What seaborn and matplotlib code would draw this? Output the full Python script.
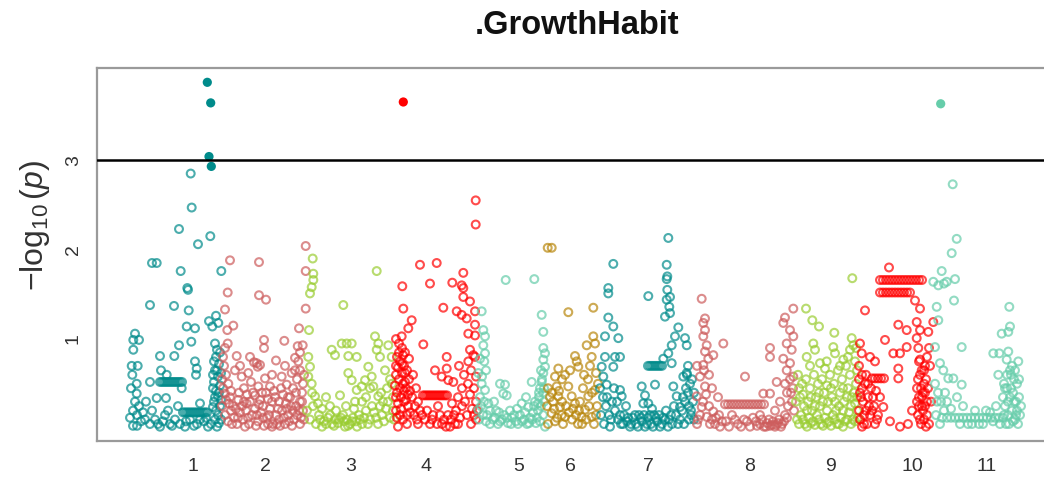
import numpy as np
import pandas as pd
import matplotlib
matplotlib.use("Agg")
import matplotlib.pyplot as plt
import seaborn as sns

sns.set_style("white")
plt.rcParams["font.family"] = ["Liberation Sans", "DejaVu Sans"]
plt.rcParams["mathtext.fontset"] = "custom"
plt.rcParams["mathtext.rm"] = "Liberation Sans"
plt.rcParams["mathtext.it"] = "Liberation Sans:italic"

# ---------------- data (position on the concatenated genome axis, -log10 p) -------------
chrom_labels = ["1", "2", "3", "4", "5", "6", "7", "8", "9", "10", "11"]
chrom_colors = ["#008B8B", "#CD5C5C", "#9ACD32", "#FF0000", "#66CDAA", "#B8860B",
                "#008B8B", "#CD5C5C", "#9ACD32", "#FF0000", "#66CDAA"]
tick_positions = [193, 265, 351, 426, 519, 570, 648, 750, 831, 912, 987]
threshold = 3.0

chr1 = [(190.7, 2.85), (191.7, 2.47), (179, 2.23), (210.3, 2.15), (198, 2.06), (152, 1.85), (156.7, 1.85),
        (180.7, 1.76), (221.3, 1.76), (187.3, 1.57), (188, 1.55), (150, 1.38), (174, 1.37), (188.7, 1.32),
        (209, 1.20), (216, 1.26), (218.3, 1.18), (212.3, 1.14), (186.7, 1.14), (195, 1.12), (191.3, 0.97),
        (179, 0.93), (174.3, 0.81), (160, 0.81), (135, 1.06), (133.3, 0.99), (139, 0.99), (133.3, 0.88),
        (131.7, 0.70), (137.7, 0.70), (132.3, 0.60), (136.7, 0.50), (136.7, 0.39), (150, 0.52),
        (160, 0.52), (162, 0.52), (164, 0.52), (166, 0.52), (168, 0.52), (170, 0.52), (172, 0.52),
        (174, 0.52), (176, 0.52), (178, 0.52), (180, 0.52), (182, 0.52),
        (161, 0.65), (166.7, 0.60), (195, 0.75), (196.7, 0.67), (196, 0.60), (181.7, 0.45), (156.7, 0.34),
        (166, 0.34),
        (183, 0.18), (185, 0.18), (187, 0.18), (189, 0.18), (191, 0.18), (193, 0.18), (195, 0.18),
        (197, 0.18), (199, 0.18), (201, 0.18), (203, 0.18), (205, 0.18), (207, 0.18),
        (200, 0.28), (137, 0.15), (133, 0.20), (141, 0.08), (137, 0.03), (133, 0.03), (145, 0.10),
        (155, 0.10), (165, 0.15), (170, 0.05), (180, 0.05), (197, 0.05), (160, 0.02), (172, 0.03),
        (185, 0.02), (150, 0.05), (130, 0.12), (143, 0.18), (190, 0.10), (204, 0.08), (208, 0.02),
        (215, 0.95), (217, 0.88), (216, 0.80), (219, 0.72), (215, 0.65), (218, 0.58), (214, 0.52),
        (220, 0.48), (216, 0.42), (218, 0.36), (214, 0.30), (220, 0.25), (216, 0.20), (218, 0.15),
        (215, 0.10), (219, 0.06), (217, 0.02), (221, 0.32), (213, 0.45), (221, 0.62), (213, 0.24),
        (135, 0.30), (139, 0.25), (131, 0.45), (146, 0.30), (152, 0.20), (158, 0.05), (163, 0.08),
        (168, 0.20), (175, 0.10), (178, 0.25), (186, 0.08), (194, 0.03), (200, 0.10), (206, 0.12),
        (211, 0.05), (213, 0.60), (214, 0.75), (220, 0.85), (221, 0.10), (219, 0.40), (217, 0.65),
        (215, 0.35)]
chr1_sig = [(207.3, 3.87), (210.7, 3.64), (209, 3.04), (211.3, 2.93)]

chr2 = [(230, 1.88), (259, 1.86), (305.7, 2.04), (305.7, 1.76), (227.7, 1.52), (259, 1.49), (266, 1.44),
        (225, 1.33), (305.7, 1.34), (233.3, 1.15), (227.3, 1.10), (299, 1.12), (264, 0.99), (264, 0.90),
        (284.3, 0.98), (302.7, 0.93), (297.7, 0.92), (225, 0.90), (227.7, 0.95), (236.7, 0.81), (254, 0.74),
        (256.7, 0.73), (260, 0.71), (257.7, 0.69), (276, 0.76), (295, 0.79), (298.3, 0.75), (235, 0.65),
        (241.7, 0.58), (248.3, 0.62), (265, 0.56), (270, 0.47), (281.7, 0.58), (286.7, 0.49), (291.7, 0.62),
        (255, 0.37), (258.3, 0.47), (228.3, 0.50), (225, 0.39), (238.3, 0.32), (246.7, 0.28),
        (223, 0.80), (224, 0.70), (226, 0.60), (222, 0.55), (231, 0.42), (244, 0.45), (251, 0.52),
        (262, 0.40), (268, 0.33), (274, 0.42), (279, 0.30), (283, 0.38), (288, 0.35), (293, 0.45),
        (297, 0.55), (300, 0.65), (303, 0.50), (302, 0.40), (300, 0.30), (296, 0.25),
        (222, 0.25), (225, 0.15), (228, 0.08), (231, 0.20), (234, 0.12), (237, 0.05), (240, 0.18),
        (243, 0.10), (246, 0.20), (249, 0.05), (252, 0.15), (255, 0.22), (258, 0.08), (261, 0.18),
        (264, 0.03), (267, 0.12), (270, 0.22), (273, 0.05), (276, 0.15), (279, 0.10), (282, 0.20),
        (285, 0.05), (288, 0.15), (291, 0.25), (294, 0.10), (297, 0.15), (300, 0.05), (303, 0.20),
        (229, 0.28), (244, 0.30), (259, 0.27), (286, 0.28), (272, 0.02), (248, 0.12), (236, 0.22),
        (223, 0.45), (226, 0.32), (230, 0.35), (233, 0.25), (239, 0.40), (242, 0.25), (247, 0.38),
        (250, 0.30), (253, 0.40), (257, 0.15), (260, 0.32), (263, 0.25), (266, 0.40), (269, 0.15),
        (272, 0.30), (275, 0.35), (278, 0.22), (281, 0.45), (284, 0.12), (287, 0.22), (290, 0.35),
        (293, 0.20), (296, 0.40), (299, 0.20), (302, 0.30), (304, 0.10), (301, 0.12), (232, 0.05),
        (245, 0.02), (256, 0.03), (268, 0.05), (280, 0.03), (292, 0.03), (238, 0.12), (263, 0.12),
        (277, 0.05), (289, 0.08), (304, 0.60), (300, 0.85), (295, 0.65), (272, 0.60), (285, 0.70),
        (240, 0.70), (250, 0.80)]

chr3 = [(312.7, 1.90), (313.3, 1.73), (313.3, 1.66), (311.7, 1.58), (310, 1.51), (309, 1.10), (376.7, 1.76),
        (343.3, 1.38), (341.7, 0.95), (346.7, 0.95), (351.7, 0.95), (331.7, 0.88), (335, 0.82), (348.3, 0.81),
        (356.7, 0.80), (375, 1.03), (378.3, 0.95), (376.7, 0.88), (380, 0.80), (388.3, 0.93), (391.7, 0.80),
        (368.3, 0.69), (365, 0.54), (371.7, 0.58), (373.3, 0.47), (378.3, 0.36), (348.3, 0.62), (351.7, 0.54),
        (356.7, 0.43), (361.7, 0.47), (340, 0.37), (308.3, 0.80), (310, 0.69), (308.3, 0.58), (311.7, 0.50),
        (315, 0.36), (385, 0.65), (390, 0.55), (387, 0.45), (393, 0.35), (383, 0.30), (362, 0.30),
        (318, 0.28), (322, 0.22), (326, 0.35), (330, 0.15),
        (307, 0.20), (310, 0.10), (313, 0.25), (316, 0.05), (319, 0.15), (324, 0.08), (328, 0.12),
        (332, 0.05), (335, 0.10), (338, 0.06), (341, 0.12), (344, 0.08), (347, 0.10), (350, 0.05),
        (353, 0.12), (356, 0.08), (359, 0.15), (362, 0.05), (366, 0.20), (370, 0.10), (374, 0.18),
        (378, 0.05), (382, 0.15), (386, 0.22), (390, 0.12), (393, 0.20), (336, 0.20), (354, 0.22),
        (345, 0.02), (322, 0.02),
        (312, 0.40), (320, 0.10), (326, 0.05), (330, 0.25), (334, 0.03), (339, 0.10), (343, 0.15),
        (348, 0.03), (352, 0.08), (357, 0.02), (360, 0.10), (364, 0.12), (368, 0.05), (372, 0.25),
        (376, 0.12), (380, 0.25), (384, 0.08), (388, 0.30), (392, 0.50), (394, 0.10), (366, 0.35),
        (355, 0.30), (346, 0.25), (370, 0.45), (381, 0.40)]

chr4 = [(475.7, 2.55), (475.7, 2.28), (420, 1.83), (436.7, 1.85), (402.3, 1.59), (430, 1.62), (452.3, 1.63),
        (463.3, 1.74), (461.7, 1.60), (463.3, 1.57), (463.3, 1.47), (403.3, 1.34), (443.3, 1.35),
        (456.7, 1.31), (461.7, 1.27), (466.7, 1.23), (470, 1.42), (475, 1.31), (475, 1.16), (468.3, 1.06),
        (475, 1.04), (411.7, 1.21), (408.3, 1.12), (401.7, 1.03), (423.3, 0.94), (446.7, 0.80), (470, 0.88),
        (475, 0.80),
        (423, 0.37), (425, 0.37), (427, 0.37), (429, 0.37), (431, 0.37), (433, 0.37), (435, 0.37),
        (437, 0.37), (439, 0.37), (441, 0.37), (443, 0.37), (445, 0.37), (447, 0.37),
        (435, 0.65), (446.7, 0.67), (441.7, 0.58), (448.3, 0.54), (453.3, 0.52), (468.3, 0.75),
        (473.3, 0.82), (471, 0.65), (476, 0.58), (474, 0.45), (470, 0.38), (476, 0.30), (472, 0.22),
        (467, 0.15), (476, 0.10),
        (396, 1.00), (399, 0.95), (402, 0.90), (405, 0.85), (397, 0.80), (400, 0.75), (404, 0.70),
        (407, 0.65), (396, 0.60), (399, 0.55), (403, 0.50), (406, 0.45), (397, 0.40), (401, 0.35),
        (404, 0.30), (408, 0.25), (396, 0.20), (400, 0.15), (403, 0.10), (407, 0.05), (398, 0.02),
        (405, 0.62), (409, 0.78), (410, 0.42), (398, 0.28), (402, 0.72), (410, 0.18), (395, 0.48),
        (413, 0.60), (416, 0.45), (418, 0.30), (414, 0.15), (420, 0.20), (425, 0.10), (430, 0.05),
        (433, 0.15), (438, 0.25), (452, 0.28), (456, 0.20), (460, 0.12), (458, 0.35), (462, 0.45),
        (455, 0.05), (450, 0.02), (446, 0.02), (442, 0.05), (418, 0.05),
        (396, 0.70), (399, 0.85), (402, 0.62), (405, 0.52), (408, 0.38), (397, 0.12), (401, 0.22),
        (404, 0.42), (407, 0.15), (409, 0.55), (400, 0.45), (398, 0.68), (403, 0.82), (406, 0.32),
        (396, 0.35), (412, 0.35), (415, 0.25), (417, 0.10), (422, 0.15), (427, 0.20), (432, 0.10),
        (437, 0.05), (440, 0.15), (444, 0.10), (448, 0.15), (451, 0.10), (454, 0.15), (458, 0.05),
        (462, 0.25), (465, 0.30), (468, 0.50), (471, 0.05), (474, 0.15), (477, 0.20), (464, 0.60),
        (459, 0.70)]
chr4_sig = [(403.3, 3.65)]

chr5 = [(505.7, 1.66), (534.3, 1.67), (481.7, 1.31), (541.7, 1.27), (543.3, 1.08), (483.3, 1.10),
        (485, 1.03), (483.3, 0.93), (485, 0.84), (484.3, 0.75), (543.3, 0.90), (545, 0.84), (543.3, 0.77),
        (545, 0.69), (543.3, 0.62), (541.7, 0.52), (500, 0.50), (505, 0.49), (503.3, 0.39), (506.7, 0.37),
        (531.7, 0.52), (478.3, 0.62), (481.7, 0.50), (485, 0.43), (488.3, 0.28), (478.3, 0.21),
        (521.7, 0.28), (528.3, 0.24),
        (540, 0.45), (543, 0.40), (539, 0.35), (544, 0.30), (541, 0.25), (538, 0.20), (543, 0.15),
        (540, 0.08), (480, 0.35), (483, 0.15), (486, 0.08), (490, 0.20), (495, 0.12), (498, 0.05),
        (502, 0.10), (508, 0.06), (512, 0.12), (516, 0.08), (520, 0.15), (524, 0.10), (527, 0.05),
        (530, 0.12), (533, 0.18), (536, 0.06), (494, 0.30), (510, 0.20), (517, 0.22), (526, 0.35),
        (535, 0.30), (499, 0.18),
        (479, 0.10), (481, 0.25), (484, 0.30), (487, 0.15), (490, 0.05), (493, 0.10), (496, 0.20),
        (500, 0.08), (504, 0.15), (507, 0.12), (511, 0.05), (514, 0.15), (518, 0.05), (522, 0.08),
        (525, 0.18), (529, 0.06), (532, 0.10), (534, 0.25), (537, 0.12), (539, 0.40), (542, 0.55),
        (544, 0.45), (541, 0.65), (538, 0.28), (482, 0.58), (486, 0.65), (480, 0.78), (545, 0.02)]

chr6 = [(547.7, 2.02), (551.7, 2.02), (568.3, 1.30), (593.3, 1.35), (593.3, 1.03), (595, 0.95),
        (586.7, 0.93), (591.7, 0.80), (575, 0.81), (576.7, 0.75), (558.3, 0.67), (555, 0.58), (565, 0.60),
        (570, 0.65), (578.3, 0.69), (556.7, 0.47), (558.3, 0.36), (560, 0.24), (561.7, 0.15), (568.3, 0.47),
        (571.7, 0.36), (575, 0.28), (551.7, 0.17), (555, 0.08), (565, 0.13), (581.7, 0.13), (585, 0.21),
        (588.3, 0.36), (595, 0.43), (591.7, 0.13),
        (548, 0.45), (550, 0.35), (547, 0.25), (553, 0.30), (563, 0.05), (572, 0.10), (578, 0.05),
        (583, 0.45), (588, 0.55), (596, 0.62), (590, 0.70), (597, 0.25), (594, 0.05), (580, 0.30),
        (548, 0.05),
        (552, 0.40), (554, 0.22), (557, 0.12), (559, 0.42), (562, 0.30), (566, 0.25), (569, 0.18),
        (573, 0.22), (576, 0.15), (579, 0.20), (582, 0.05), (586, 0.10), (589, 0.25), (592, 0.40),
        (596, 0.15), (598, 0.50), (584, 0.60), (562, 0.55)]

chr7 = [(668.3, 2.13), (613.3, 1.84), (666.7, 1.83), (667.3, 1.70), (666.7, 1.67), (648.3, 1.48),
        (608.3, 1.57), (608.3, 1.51), (667.3, 1.55), (670, 1.47), (666.7, 1.44), (669.3, 1.36), (670, 1.29),
        (665, 1.25), (678.3, 1.13), (675, 1.03), (671.7, 0.93), (668.3, 0.84), (608.3, 1.24), (613.3, 1.14),
        (605, 1.03), (618.3, 1.01), (685, 1.01), (686.7, 0.93),
        (648, 0.70), (650, 0.70), (652, 0.70), (654, 0.70), (656, 0.70), (658, 0.70), (660, 0.70),
        (662, 0.70),
        (615, 0.80), (620, 0.80), (613.3, 0.69), (663.3, 0.78), (671.7, 0.73), (601.7, 0.69), (603.3, 0.58),
        (606.7, 0.49), (620, 0.43), (621.7, 0.36), (641.7, 0.47), (655, 0.49), (645, 0.37), (648.3, 0.28),
        (643.3, 0.28), (673.3, 0.47), (676.7, 0.36), (680, 0.24), (683.3, 0.58), (686.7, 0.62),
        (600, 0.45), (603, 0.35), (606, 0.25), (609, 0.15), (612, 0.30), (615, 0.20), (618, 0.10),
        (621, 0.05), (624, 0.15), (627, 0.08), (630, 0.02), (633, 0.12), (636, 0.05), (639, 0.15),
        (642, 0.08), (645, 0.02), (648, 0.12), (651, 0.05), (654, 0.15), (657, 0.08), (660, 0.02),
        (663, 0.12), (666, 0.20), (669, 0.10), (672, 0.05), (676, 0.15), (680, 0.10), (683, 0.35),
        (686, 0.45), (689, 0.25), (692, 0.55), (694, 0.40), (691, 0.15), (688, 0.70), (684, 0.05),
        (610, 0.02), (626, 0.25), (652, 0.22),
        (601, 0.15), (604, 0.05), (607, 0.35), (611, 0.10), (614, 0.45), (617, 0.30), (620, 0.15),
        (623, 0.05), (628, 0.12), (631, 0.05), (635, 0.15), (638, 0.02), (641, 0.12), (644, 0.15),
        (647, 0.05), (650, 0.15), (653, 0.02), (656, 0.12), (659, 0.15), (662, 0.05), (665, 0.10),
        (668, 0.02), (671, 0.15), (674, 0.25), (678, 0.05), (682, 0.20), (685, 0.30), (688, 0.40),
        (690, 0.50), (693, 0.30), (687, 0.60), (691, 0.20), (694, 0.10), (689, 0.10), (605, 0.80)]

chr8 = [(701.7, 1.45), (705, 1.23), (703.3, 1.18), (705, 1.10), (703.3, 1.03), (706.7, 0.93), (705, 0.86),
        (708.3, 0.78), (703.3, 0.71), (723.3, 0.95), (713.3, 0.82), (745, 0.58), (770, 0.90), (770, 0.80),
        (793.3, 1.34), (785, 1.24), (783.3, 1.18), (790, 1.10), (793.3, 1.03), (786.7, 0.95), (791.7, 0.88),
        (783.3, 0.78), (790, 0.73), (786.7, 0.65), (793.3, 0.58), (776.7, 0.52),
        (725, 0.27), (728, 0.27), (731, 0.27), (734, 0.27), (737, 0.27), (740, 0.27), (743, 0.27),
        (746, 0.27), (749, 0.27), (752, 0.27), (755, 0.27), (758, 0.27), (761, 0.27), (764, 0.27),
        (763.3, 0.39), (770, 0.39), (700, 0.58), (705, 0.47), (696.7, 0.36), (701.7, 0.24), (706.7, 0.13),
        (713.3, 0.19),
        (698, 0.10), (710, 0.05), (716, 0.12), (720, 0.02), (726, 0.08), (732, 0.15), (738, 0.05),
        (744, 0.10), (750, 0.02), (756, 0.08), (760, 0.05), (764, 0.02), (767, 0.06), (770, 0.03),
        (773, 0.08), (776, 0.04), (779, 0.10), (782, 0.05), (785, 0.15), (788, 0.25), (791, 0.40),
        (794, 0.20), (780, 0.30), (775, 0.20), (718, 0.35), (712, 0.45), (697, 0.70), (760, 0.15),
        (697, 0.05), (700, 0.15), (703, 0.30), (706, 0.38), (709, 0.25), (712, 0.10), (715, 0.05),
        (719, 0.15), (722, 0.08), (729, 0.02), (735, 0.10), (741, 0.02), (747, 0.08), (753, 0.12),
        (757, 0.03), (762, 0.10), (766, 0.02), (769, 0.10), (772, 0.04), (775, 0.02), (778, 0.06),
        (781, 0.02), (784, 0.08), (787, 0.40), (790, 0.55), (793, 0.45), (785, 0.50), (792, 0.30),
        (787, 0.12), (709, 0.60), (704, 0.65)]

chr9 = [(852.3, 1.68), (806, 1.34), (812.3, 1.21), (819, 1.14), (834.3, 1.07), (813.3, 0.95), (815, 0.88),
        (806.7, 0.80), (833.3, 0.91), (835, 0.84), (843.3, 0.77), (851.7, 1.01), (853.3, 0.93), (850, 0.88),
        (820, 0.73), (826.7, 0.75), (825, 0.67),
        (798, 0.60), (802, 0.50), (806, 0.55), (810, 0.45), (814, 0.60), (818, 0.50), (822, 0.55),
        (830, 0.60), (834, 0.50), (838, 0.65), (842, 0.55), (846, 0.70), (850, 0.60), (855, 0.75),
        (857, 0.65), (800, 0.35), (804, 0.25), (808, 0.30), (812, 0.20), (816, 0.35), (820, 0.25),
        (824, 0.40), (828, 0.30), (832, 0.35), (836, 0.20), (840, 0.40), (844, 0.30), (848, 0.45),
        (852, 0.35), (856, 0.50), (797, 0.10), (801, 0.15), (805, 0.05), (809, 0.12), (813, 0.08),
        (817, 0.15), (821, 0.05), (825, 0.12), (829, 0.08), (833, 0.15), (837, 0.05), (841, 0.12),
        (845, 0.08), (849, 0.18), (853, 0.10), (857, 0.20), (827, 0.48), (843, 0.45), (855, 0.28),
        (796, 0.30), (799, 0.45), (803, 0.38), (807, 0.20), (811, 0.35), (815, 0.25), (819, 0.40),
        (823, 0.30), (827, 0.20), (831, 0.45), (835, 0.30), (839, 0.25), (843, 0.20), (847, 0.35),
        (851, 0.25), (854, 0.40), (857, 0.35), (799, 0.05), (803, 0.10), (807, 0.02), (811, 0.06),
        (815, 0.04), (819, 0.10), (823, 0.03), (827, 0.06), (831, 0.03), (835, 0.10), (839, 0.05),
        (843, 0.02), (847, 0.10), (851, 0.05), (855, 0.08), (858, 0.12), (810, 0.70), (840, 0.70),
        (848, 0.80), (856, 0.90)]

chr10 = [(889, 1.80),
         (880, 1.66), (883, 1.66), (886, 1.66), (889, 1.66), (892, 1.66), (895, 1.66), (898, 1.66),
         (901, 1.66), (904, 1.66), (907, 1.66), (910, 1.66), (913, 1.66), (916, 1.66), (919, 1.66),
         (922, 1.66),
         (880, 1.52), (883, 1.52), (886, 1.52), (889, 1.52), (892, 1.52), (895, 1.52), (898, 1.52),
         (901, 1.52), (904, 1.52), (907, 1.52), (910, 1.52),
         (915, 1.43), (920, 1.34), (865, 1.32), (898.3, 1.16), (906.7, 1.10), (916.7, 1.19), (920, 1.10),
         (928.3, 1.08), (933.3, 1.19), (885, 0.99), (916.7, 1.01), (918.3, 0.90), (920, 0.77),
         (921.7, 0.65), (893.3, 0.84), (900, 0.84), (906.7, 0.91), (898.3, 0.67), (898.3, 0.56),
         (872, 0.56), (875, 0.56), (878, 0.56), (881, 0.56), (884, 0.56),
         (860, 0.95), (861.7, 0.84), (870, 0.80), (875, 0.75), (883.3, 0.24), (890, 0.08), (900, 0.02),
         (859, 0.70), (862, 0.60), (865, 0.50), (860, 0.40), (863, 0.30), (866, 0.20), (860, 0.10),
         (864, 0.05), (868, 0.35), (871, 0.45), (870, 0.15), (874, 0.25), (877, 0.10), (880, 0.35),
         (862, 0.02), (876, 0.42),
         (918, 0.55), (921, 0.45), (924, 0.50), (919, 0.35), (922, 0.25), (925, 0.40), (918, 0.15),
         (921, 0.05), (924, 0.10), (927, 0.30), (923, 0.20), (920, 0.60), (926, 0.02), (917, 0.30),
         (925, 0.70), (929, 0.90), (927, 0.80), (912, 0.20), (908, 0.05),
         (859, 0.20), (861, 0.35), (864, 0.15), (867, 0.05), (869, 0.25), (872, 0.20), (875, 0.05),
         (878, 0.15), (866, 0.60), (868, 0.50), (862, 0.45), (859, 0.55), (873, 0.35), (917, 0.45),
         (919, 0.25), (922, 0.35), (925, 0.25), (927, 0.15), (929, 0.05), (920, 0.10), (923, 0.40),
         (926, 0.55), (928, 0.45), (930, 0.70), (924, 0.65), (919, 0.75), (931, 0.30)]

chr11 = [(952.7, 2.73), (956.7, 2.12), (951.7, 1.96), (941.7, 1.76), (955, 1.67), (933.3, 1.64),
         (938.3, 1.60), (944, 1.62), (946.7, 1.64), (954, 1.43), (936.7, 1.36), (938.3, 1.21),
         (1009.3, 1.36), (1001.7, 1.06), (1008.3, 1.08), (1010, 1.14), (961.7, 0.91), (935, 0.91),
         (993.3, 0.84), (999.3, 0.84), (1008.3, 0.86), (940, 0.73), (943.3, 0.65), (948.3, 0.56),
         (953.3, 0.56), (961.7, 0.49), (998.3, 0.60), (1006.7, 0.77), (1010, 0.65), (1018.3, 0.75),
         (947, 0.12), (951, 0.12), (955, 0.12), (959, 0.12), (963, 0.12), (967, 0.12), (971, 0.12),
         (975, 0.12), (979, 0.12), (983, 0.12), (987, 0.12), (991, 0.12), (995, 0.12), (999, 0.12),
         (1003, 0.12),
         (935, 0.50), (938, 0.40), (941, 0.30), (944, 0.20), (936, 0.15), (940, 0.05), (947, 0.30),
         (951, 0.22), (957, 0.35), (963, 0.25), (968, 0.05), (975, 0.20), (983, 0.05), (990, 0.18),
         (996, 0.25), (1004, 0.50), (1007, 0.45), (1010, 0.35), (1013, 0.40), (1016, 0.30),
         (1005, 0.25), (1008, 0.15), (1012, 0.20), (1015, 0.10), (1018, 0.05), (1020, 0.15),
         (1006, 0.05), (1014, 0.55), (1011, 0.60), (1017, 0.50),
         (1003, 0.35), (1005, 0.45), (1008, 0.30), (1011, 0.45), (1014, 0.30), (1017, 0.20),
         (1019, 0.35), (1021, 0.25), (1009, 0.05), (1013, 0.08), (1016, 0.15), (1004, 0.15),
         (1007, 0.60), (1012, 0.70), (1019, 0.55), (1015, 0.65), (937, 0.30), (942, 0.12), (945, 0.40),
         (960, 0.05), (972, 0.05), (979, 0.05), (993, 0.08), (1000, 0.05), (986, 0.20)]
chr11_sig = [(940.7, 3.63)]

all_points = [chr1, chr2, chr3, chr4, chr5, chr6, chr7, chr8, chr9, chr10, chr11]
sig_points = {"1": chr1_sig, "4": chr4_sig, "11": chr11_sig}

# ---------------- tables ----------------
rows = []
for lab, pts in zip(chrom_labels, all_points):
    for x, y in pts:
        rows.append((lab, x, y))
df = pd.DataFrame(rows, columns=["chrom", "pos", "logp"])
srows = []
for lab, pts in sig_points.items():
    for x, y in pts:
        srows.append((lab, x, y))
sdf = pd.DataFrame(srows, columns=["chrom", "pos", "logp"])
palette = {lab: c for lab, c in zip(chrom_labels, chrom_colors)}

# ---------------- figure ----------------
W, H = 1044, 478
fig = plt.figure(figsize=(W / 100, H / 100), dpi=100)
ax = fig.add_axes([97 / W, 1 - 441 / H, (1044 - 97) / W, (441 - 68) / H])

sns.scatterplot(data=df, x="pos", y="logp", hue="chrom", palette=palette,
                s=32, linewidth=1.5, legend=False, ax=ax)
coll = ax.collections[0]
fc = coll.get_facecolors().copy()
fc[:, 3] = 0.7
coll.set_edgecolors(fc)
coll.set_facecolors("none")
coll.set_linewidths(1.5)

sns.scatterplot(data=sdf, x="pos", y="logp", hue="chrom", palette=palette,
                s=44, linewidth=0, legend=False, ax=ax)

ax.axhline(threshold, color="black", lw=1.8, zorder=3)

ax.set_xlim(97, 1044)
ax.set_ylim(-0.14, 4.03)

ax.set_xticks(tick_positions)
ax.set_xticklabels(chrom_labels)
ax.set_yticks([1, 2, 3])
ax.set_yticklabels(["1", "2", "3"], rotation=90, va="center")
ax.tick_params(axis="x", length=0, pad=12, labelsize=14, labelcolor="#333333")
ax.tick_params(axis="y", length=0, pad=11, labelsize=14, labelcolor="#333333")
ax.set_xlabel("")
ax.set_ylabel(r"$-\log_{10}(\mathit{p})$", fontsize=23, color="#333333")
ax.yaxis.set_label_coords((52 - 97) / (1044 - 97), (441 - 225) / (441 - 68))

for side in ["left", "bottom", "top"]:
    ax.spines[side].set_color("#9a9a9a")
    ax.spines[side].set_linewidth(1.6)
ax.spines["right"].set_visible(False)

fig.text(577 / W, 1 - 25 / H, ".GrowthHabit", ha="center", va="center",
         fontsize=23.5, fontweight="bold", color="#111111")

fig.savefig("out.png", dpi=100)
